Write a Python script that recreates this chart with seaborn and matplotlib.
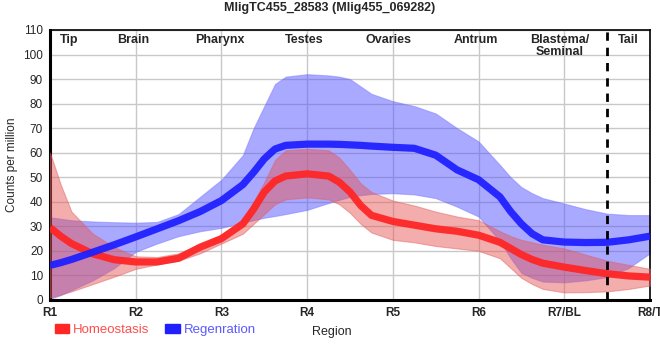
import numpy as np
import pandas as pd
import matplotlib
matplotlib.use("Agg")
import matplotlib.pyplot as plt
import matplotlib.patches as mpatches
import seaborn as sns

# ---- data ----
region_ticks = ["R1", "R2", "R3", "R4", "R5", "R6", "R7/BL", "R8/T"]
region_names = ["Tip", "Brain", "Pharynx", "Testes", "Ovaries", "Antrum", "Blastema/\nSeminal", "Tail"]
name_pos = [0.22, 0.97, 1.98, 2.97, 3.95, 4.97, 5.95, 6.75]

pos = [0, 0.125, 0.25, 0.5, 0.75, 1, 1.25, 1.5, 1.75, 2, 2.25, 2.375, 2.5, 2.625, 2.75, 3,
       3.25, 3.375, 3.5, 3.625, 3.75, 4, 4.25, 4.5, 4.75, 5, 5.25, 5.375, 5.5, 5.625, 5.75,
       6, 6.25, 6.5, 6.75, 7]

homeo_mean = [29.5, 26, 23, 18.8, 16.4, 15.5, 15.5, 17, 21.5, 25, 31, 37, 44, 48.5, 50.5, 51.4,
              50.5, 48, 44, 38.5, 34.5, 32, 30.5, 29, 28, 26.4, 23.5, 21, 18.5, 16.5, 15,
              13.4, 12, 10.7, 9.8, 9.3]
homeo_hi = [60, 47, 36, 27, 21.5, 17.8, 17.5, 19, 22.5, 26.5, 33, 40, 48, 57, 61, 61.6,
            61, 58, 53, 47.5, 44, 40.5, 38.5, 36, 34, 32.5, 28, 26, 24.5, 23.5, 22.5,
            21, 18.5, 16, 14.3, 12.7]
homeo_lo = [1, 2.2, 3.5, 6.5, 9.5, 12.7, 14.5, 16, 19, 23, 27, 31, 35, 39, 41, 41.8,
            41, 39, 35.5, 31, 27.5, 24.5, 23.5, 22, 21, 20, 17, 13, 9, 6.5, 4.5,
            3.1, 3.2, 3.5, 4.5, 5.9]

regen_mean = [14.1, 15.2, 16.5, 19.5, 22.5, 25.7, 29, 32.3, 36, 40.5, 47, 52, 57.5, 61.5, 63, 63.5,
              63.5, 63.4, 63.2, 63, 62.7, 62.2, 61.8, 59, 53, 49, 42, 36, 31, 27, 24.5,
              23.6, 23.4, 23.5, 24.5, 26]
regen_hi = [33.7, 33.1, 32.5, 32, 31.7, 31.5, 31.8, 35, 42, 49, 59, 70, 79, 88, 91, 92,
            91.5, 91, 90, 87, 84, 81, 79, 76, 70, 64.6, 55, 50, 46, 43.5, 41.5,
            39.3, 37, 35.2, 34.6, 34.6]
regen_lo = [0.5, 2, 4, 8, 13, 19.6, 23, 26, 28, 29.4, 31.5, 32.5, 33.5, 34.2, 35, 36.7,
            39.5, 40.8, 42, 42.7, 43.2, 43.5, 43, 41.5, 38, 34, 24, 17, 11, 9, 7.5,
            7.2, 8, 9.3, 13, 19]

RED = "#ff2626"
BLUE = "#2020ff"

df = pd.DataFrame({
    "pos": pos * 2,
    "cpm": homeo_mean + regen_mean,
    "cond": ["Homeostasis"] * len(pos) + ["Regenration"] * len(pos),
})

sns.set_style("white")
plt.rcParams["font.family"] = ["Liberation Sans", "DejaVu Sans"]

fig = plt.figure(figsize=(6.6, 3.6), dpi=100)
ax = fig.add_axes([0.0758, 0.1667, 0.909, 0.75])

ax.fill_between(pos, regen_lo, regen_hi, color="#4d4dff", alpha=0.48, lw=0.8,
                edgecolor="#7777ff", zorder=2)
ax.fill_between(pos, homeo_lo, homeo_hi, color="#e65555", alpha=0.48, lw=0.8,
                edgecolor="#e06060", zorder=3)

sns.lineplot(data=df, x="pos", y="cpm", hue="cond", palette=[RED, BLUE],
             linewidth=5.2, ax=ax, legend=False, zorder=4,
             solid_capstyle="butt", solid_joinstyle="round")
for ln in ax.get_lines():
    ln.set_alpha(0.95)

ax.set_xlim(0, 7)
ax.set_ylim(0, 110)
ax.set_xticks(range(8))
ax.set_xticklabels(region_ticks, fontsize=8.5, fontweight="bold")
ax.set_xticks([6.5], minor=True)
ax.set_yticks(range(0, 111, 10))
ax.set_yticklabels([str(v) for v in range(0, 111, 10)], fontsize=8.5)
ax.tick_params(axis="both", which="both", direction="out", length=4, width=1, color="black", pad=1)
ax.tick_params(axis="x", which="minor", length=4, width=1.5)
ax.grid(True, color="#c8c8c8", lw=1, zorder=0)
ax.set_axisbelow(True)

for side in ["left", "bottom"]:
    ax.spines[side].set_linewidth(2.2)
    ax.spines[side].set_color("black")
for side in ["top", "right"]:
    ax.spines[side].set_linewidth(1.2)
    ax.spines[side].set_color("black")
    ax.spines[side].set_visible(True)

ax.axvline(6.5, color="black", lw=2, ls=(0, (3, 2.5)), zorder=6)

for name, x in zip(region_names, name_pos):
    ax.text(x, 108.5, name, ha="center", va="top", fontsize=9, fontweight="bold",
            linespacing=1.0, zorder=7)

ax.set_xlabel("Region", fontsize=9, labelpad=1)
ax.xaxis.set_label_coords(0.47, -0.095)
ax.set_ylabel("Counts per million", fontsize=8.5, labelpad=4)

fig.suptitle("MligTC455_28583 (Mlig455_069282)", fontsize=9, fontweight="bold", y=0.995)

handles = [mpatches.Patch(color=RED, label="Homeostasis"),
           mpatches.Patch(color=BLUE, label="Regenration")]
leg = ax.legend(handles=handles, loc="upper left", bbox_to_anchor=(-0.012, -0.045),
                ncol=2, frameon=False, fontsize=9.5, handlelength=1.1, handleheight=0.6,
                handletextpad=0.3, columnspacing=1.2,
                labelcolor=["#ff4d4d", "#5a5aff"])

fig.savefig("out.png", dpi=100)
